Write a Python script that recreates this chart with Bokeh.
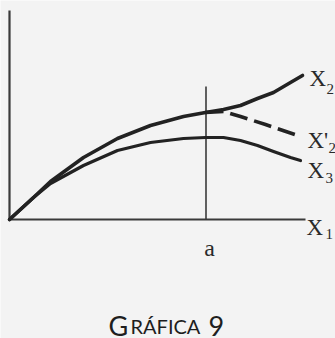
from bokeh.plotting import figure
from bokeh.models import Range1d
from bokeh.core.properties import value
from bokeh.embed import file_html
from bokeh.resources import INLINE

# Curves (x in chart units, y in chart units; origin at the axes corner)
x2_x = [0, 2.4, 4.1, 7.4, 10.8, 14.1, 17.4, 19.6, 21.4, 23.1, 24.8, 26.4, 28.1, 29.3]
x2_y = [0, 2.2, 3.8, 6.2, 8.1, 9.4, 10.3, 10.7, 11.0, 11.4, 12.1, 12.7, 13.7, 14.4]

x3_x = [0, 2.4, 4.1, 7.4, 10.8, 14.1, 17.4, 19.6, 21.4, 23.1, 24.8, 26.4, 28.1, 29.1]
x3_y = [0, 2.2, 3.6, 5.4, 6.9, 7.7, 8.1, 8.2, 8.2, 7.9, 7.4, 6.8, 6.2, 5.9]

x2p_x = [19.6, 21.4, 23.1, 25.6, 29.1]
x2p_y = [10.7, 10.8, 10.3, 9.5, 8.3]

# Axes and marker at a
yaxis_x = [0, 0]
yaxis_y = [0, 20.9]
xaxis_x = [-0.1, 29.6]
xaxis_y = [0, 0]
a_pos = 19.65
a_top = 13.3

# Labels
lab_main = ["X", "X'", "X", "X"]
lab_main_x = [30.0, 29.8, 29.8, 29.7]
lab_main_y = [14.1, 7.9, 4.9, -0.8]
lab_sub = ["2", "2", "3", "1"]
lab_sub_x = [31.7, 31.9, 31.6, 31.6]
lab_sub_y = [13.1, 7.2, 4.2, -1.4]
a_label = "a"
a_label_y = -2.8

cap_g = "G"
cap_g_x = 9.9
cap_small = "RÁFICA"
cap_small_x = 12.1
cap_num = "9"
cap_num_x = 19.9
cap_y = -10.6

ink = "#222222"
axis_ink = "#3a3a3a"

p = figure(width=335, height=338, output_backend="svg", toolbar_location=None,
           x_range=Range1d(-0.9, 32.6), y_range=Range1d(-11.9, 21.9),
           min_border=0, min_border_left=0, min_border_right=0,
           min_border_top=0, min_border_bottom=0)
p.axis.visible = False
p.grid.visible = False
p.outline_line_color = None
p.background_fill_color = "#f3f3f3"
p.border_fill_color = "#f3f3f3"

p.line(yaxis_x, yaxis_y, line_color=axis_ink, line_width=2.2)
p.line(xaxis_x, xaxis_y, line_color=axis_ink, line_width=2.0)
p.line([a_pos, a_pos], [0, a_top], line_color=axis_ink, line_width=1.6)

p.line(x3_x, x3_y, line_color=ink, line_width=3.2, line_cap="round", line_join="round")
p.line(x2_x, x2_y, line_color=ink, line_width=3.6, line_cap="round", line_join="round")
p.line(x2p_x, x2p_y, line_color=ink, line_width=3.6, line_dash="18 7")

serif = value("Liberation Serif")
p.text(x=lab_main_x, y=lab_main_y, text=lab_main, text_font=serif,
       text_font_size="23px", text_color="#2a2a2a", text_baseline="alphabetic",
       text_align="left")
p.text(x=lab_sub_x, y=lab_sub_y, text=lab_sub, text_font=serif,
       text_font_size="15px", text_color="#2a2a2a", text_baseline="alphabetic",
       text_align="left")
p.text(x=[a_pos + 0.35], y=[a_label_y], text=[a_label], text_font=serif,
       text_font_size="24px", text_color="#2a2a2a", text_baseline="alphabetic",
       text_align="center")

sans = value("Lato")
p.text(x=[cap_g_x], y=[cap_y], text=[cap_g], text_font=sans,
       text_font_size="27px", text_color="#1e1e1e", text_baseline="alphabetic",
       text_align="left")
p.text(x=[cap_small_x], y=[cap_y], text=[cap_small], text_font=sans,
       text_font_size="20px", text_color="#1e1e1e", text_baseline="alphabetic",
       text_align="left")
p.text(x=[cap_num_x], y=[cap_y], text=[cap_num], text_font=sans,
       text_font_size="27px", text_color="#1e1e1e", text_baseline="alphabetic",
       text_align="left")

open("out.html", "w").write(file_html(p, INLINE))
